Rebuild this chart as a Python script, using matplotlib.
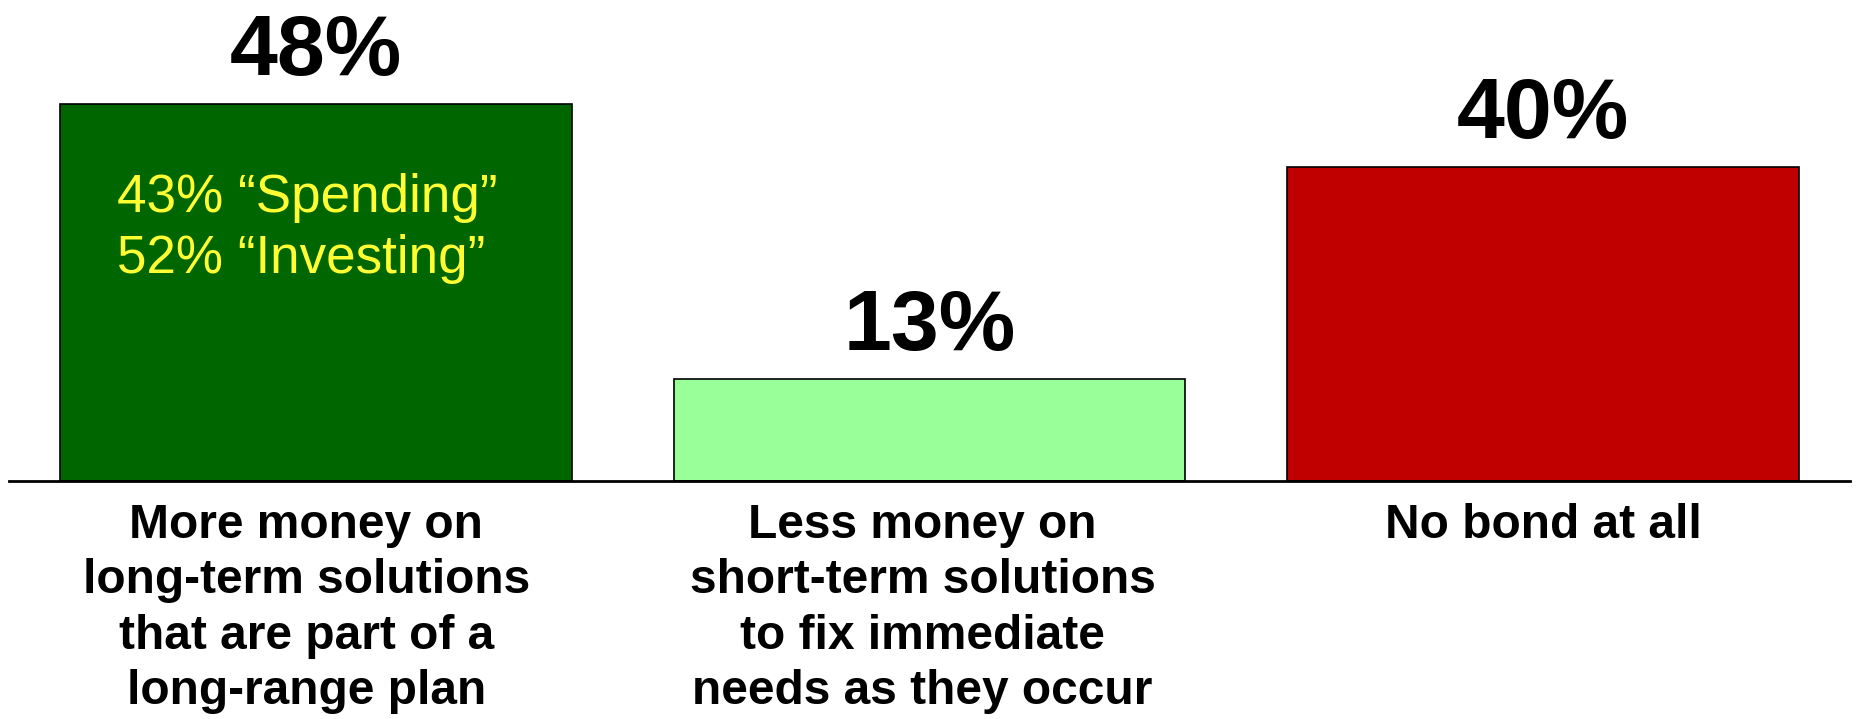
import matplotlib
matplotlib.use("Agg")
import matplotlib.pyplot as plt

categories = ["More money on\nlong-term solutions\nthat are part of a\nlong-range plan",
              "Less money on\nshort-term solutions\nto fix immediate\nneeds as they occur",
              "No bond at all"]
values = [48, 13, 40]
value_labels = ["48%", "13%", "40%"]
colors = ["#006600", "#99FF99", "#C00000"]
sub_lines = ["43% \u201cSpending\u201d", "52% \u201cInvesting\u201d"]

plt.rcParams['font.family'] = ['Liberation Sans', 'DejaVu Sans']

W, H = 1857, 719
fig = plt.figure(figsize=(W / 100, H / 100), dpi=100)
ax = fig.add_axes([9 / W, (H - 481) / H, 1841 / W, 481 / H])

x = list(range(len(values)))
bars = ax.bar(x, values, width=0.834, color=colors, edgecolor="black", linewidth=1.2, zorder=2)
ax.set_xlim(-0.5, 2.5)
ax.set_ylim(0, 481 / 7.854)

for b, lab in zip(bars, value_labels):
    ax.annotate(lab, (b.get_x() + b.get_width() / 2, b.get_height()),
                xytext=(0, 21), textcoords="offset points",
                ha="center", va="baseline", fontsize=62, fontweight="bold")

# sub-annotation inside first bar (two lines)
sub_y = [34.25, 26.48]
for line, yy in zip(sub_lines, sub_y):
    ax.text(bars[0].get_x() + 0.093, yy, line, ha="left", va="baseline",
            fontsize=38.2, color="#FFFF33")

# category labels below the axis
label_dx = [-0.0155, -0.0115, 0.0]
ax.set_xticks([])
for xi, cat, dx in zip(x, categories, label_dx):
    ax.annotate(cat, (xi + dx, 0), xytext=(0, -15.5), textcoords="offset points",
                ha="center", va="top", fontsize=34.5, fontweight="bold",
                linespacing=1.3, annotation_clip=False)

ax.set_yticks([])
for s in ["top", "left", "right"]:
    ax.spines[s].set_visible(False)
ax.spines["bottom"].set_linewidth(2)

fig.savefig("out.png", dpi=100)
